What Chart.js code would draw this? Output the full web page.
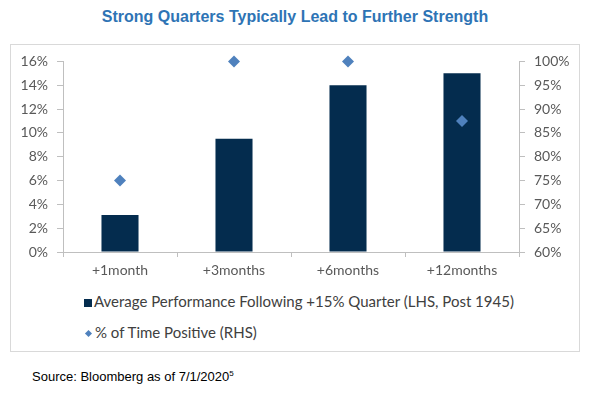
<!DOCTYPE html>
<html>
<head>
<meta charset="utf-8">
<script src="https://cdn.jsdelivr.net/npm/chart.js@4/dist/chart.umd.min.js"></script>
<style>
  body { margin: 0; background: #fff; width: 593px; height: 395px; position: relative; overflow: hidden; }
  #title { position: absolute; top: 8px; left: 0; width: 590px; text-align: center;
           font: bold 16px "Liberation Sans Narrow", Arial, sans-serif; color: #2E74B5; }
  #box { position: absolute; left: 10px; top: 44px; width: 570px; height: 308px;
         border: 1px solid #d9d9d9; box-sizing: border-box; }
  #myChart { position: absolute; left: 10px; top: 44px; }
  .leg { position: absolute; left: 84px; font: 15px Lato, sans-serif; color: #404040; white-space: nowrap; }
  .sq { display: inline-block; width: 8px; height: 8px; background: #042C4E; margin-right: 2px; }
  .dm { display: inline-block; width: 5px; height: 5px; background: #4F81BD; transform: rotate(45deg);
        margin: 0 4px 2px 2px; }
  #source { position: absolute; left: 32px; top: 369px; font: 13px Arial, sans-serif; color: #000; }
</style>
</head>
<body>
<div id="title">Strong Quarters Typically Lead to Further Strength</div>
<div id="box"></div>
<canvas id="myChart" width="570" height="240"></canvas>
<div class="leg" id="leg1" style="top:292px"></div>
<div class="leg" id="leg2" style="top:323px"></div>
<div id="source">Source: Bloomberg as of 7/1/2020<sup style="font-size:8px">5</sup></div>
<script>
const categories = ['+1month', '+3months', '+6months', '+12months'];
const avgPerformance = [3.1, 9.5, 14.0, 15.0];
const pctPositive = [75, 100, 100, 87.5];
const seriesNames = [
  'Average Performance Following +15% Quarter (LHS, Post 1945)',
  '% of Time Positive (RHS)'
];

document.getElementById('leg1').innerHTML = '<span class="sq"></span>' + seriesNames[0];
document.getElementById('leg2').innerHTML = '<span class="dm"></span>' + seriesNames[1];

const tickFont = { family: 'Lato', size: 14 };
const tickColor = '#595959';
const axisLine = '#bfbfbf';

const config = {
  type: 'bar',
  data: {
    labels: categories,
    datasets: [
      {
        type: 'line',
        label: seriesNames[1],
        data: pctPositive,
        yAxisID: 'y1',
        showLine: false,
        clip: false,
        pointStyle: 'rectRot',
        pointRadius: 6,
        backgroundColor: '#4F81BD',
        borderColor: '#4F81BD',
        borderWidth: 0
      },
      {
        label: seriesNames[0],
        data: avgPerformance,
        yAxisID: 'y',
        backgroundColor: '#042C4E',
        categoryPercentage: 1,
        barPercentage: 0.325
      }
    ]
  },
  options: {
    responsive: false,
    animation: false,
    layout: { padding: { top: 17, left: 0, right: 0, bottom: 0 } },
    plugins: { legend: { display: false }, tooltip: { enabled: false } },
    scales: {
      x: {
        grid: { drawOnChartArea: false, offset: true, tickLength: 5, color: axisLine },
        border: { color: axisLine },
        ticks: { font: tickFont, color: tickColor, padding: 5 },
        afterFit: s => { s.height = 32; }
      },
      y: {
        position: 'left',
        min: 0, max: 16,
        grid: { drawOnChartArea: false, tickLength: 6, color: axisLine },
        border: { color: axisLine },
        ticks: { stepSize: 2, font: tickFont, color: tickColor, padding: 9, callback: v => v + '%' },
        afterFit: s => { s.width = 53; }
      },
      y1: {
        position: 'right',
        min: 60, max: 100,
        grid: { drawOnChartArea: false, tickLength: 6, color: axisLine },
        border: { color: axisLine },
        ticks: { stepSize: 5, font: tickFont, color: tickColor, padding: 9, callback: v => v + '%' },
        afterFit: s => { s.width = 61; }
      }
    }
  }
};

const myChart = new Chart(document.getElementById('myChart'), config);
</script>
</body>
</html>
